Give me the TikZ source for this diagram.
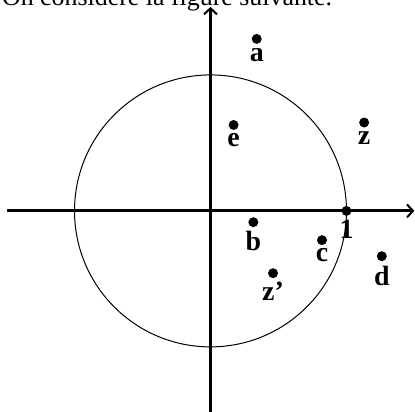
\documentclass[tikz,border=0pt]{standalone}
\usepackage{fontspec}
\setmainfont{Liberation Serif}
\usetikzlibrary{arrows.meta, positioning}

\tikzset{
  axis/.style={line width=1.5pt, -{Straight Barb[length=3pt, width=6.5pt, line width=1pt]}},
  pt/.style={circle, fill=black, inner sep=0pt, minimum size=5pt},
  lbl/.style={anchor=base, inner sep=0pt, font=\fontsize{14}{16}\selectfont\bfseries}
}

\begin{document}
\begin{tikzpicture}[scale=2.4]
        \useasboundingbox (-1.548,-1.478) rectangle (1.504,1.551);
        \node[anchor=base west, inner sep=0pt, font=\fontsize{13}{15}\selectfont] (title)
          at (-1.535,1.507) {On considère la figure suivante.};

        \draw[line width=0.5pt] (0,0) circle (1);
        \draw[axis] (-1.496,0) -- (1.499,0);
        \draw[axis] (0,-1.6) -- (0,1.50);

        % points
        \node[pt] (a) at (0.34,1.265) {};
        \node[pt] (e) at (0.17,0.632) {};
        \node[pt] (z) at (1.13,0.65) {};
        \node[pt] (one) at (1.0,0) {};
        \node[pt] (b) at (0.315,-0.083) {};
        \node[pt] (c) at (0.82,-0.215) {};
        \node[pt] (d) at (1.26,-0.333) {};
        \node[pt] (zp) at (0.46,-0.458) {};

        % labels
        \node[lbl] (la) at (0.34,1.098) {a};
        \node[lbl] (le) at (0.17,0.470) {e};
        \node[lbl] (lz) at (1.13,0.490) {z};
        \node[lbl] (lone) at (1.0,-0.206) {1};
        \node[lbl] (lb) at (0.315,-0.294) {b};
        \node[lbl] (lc) at (0.82,-0.373) {c};
        \node[lbl] (ld) at (1.26,-0.551) {d};
        \node[lbl] (lzp) at (0.46,-0.660) {z’};
      \end{tikzpicture}
\end{document}
